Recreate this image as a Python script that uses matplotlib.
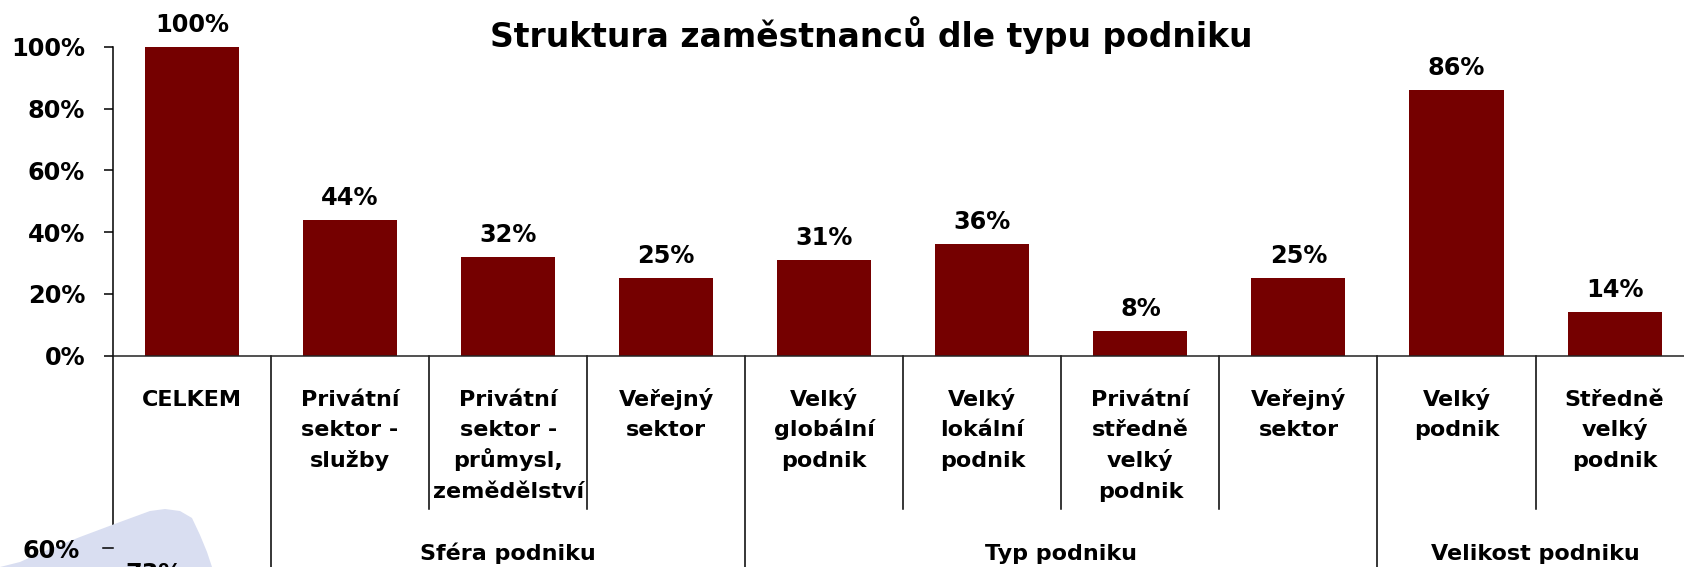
import matplotlib
matplotlib.use("Agg")
import matplotlib.pyplot as plt
from matplotlib.patches import Polygon
from matplotlib.ticker import PercentFormatter

plt.rcParams['font.family'] = ['DejaVu Sans']
plt.rcParams['font.weight'] = 'bold'

categories = [
    ["CELKEM"],
    ["Privátní", "sektor -", "služby"],
    ["Privátní", "sektor -", "průmysl,", "zemědělství"],
    ["Veřejný", "sektor"],
    ["Velký", "globální", "podnik"],
    ["Velký", "lokální", "podnik"],
    ["Privátní", "středně", "velký", "podnik"],
    ["Veřejný", "sektor"],
    ["Velký", "podnik"],
    ["Středně", "velký", "podnik"],
]
values = [1.00, 0.44, 0.32, 0.25, 0.31, 0.36, 0.08, 0.25, 0.86, 0.14]
value_labels = ["100%", "44%", "32%", "25%", "31%", "36%", "8%", "25%", "86%", "14%"]
groups = ["Sféra podniku", "Typ podniku", "Velikost podniku"]
group_span = [(1, 3), (4, 7), (8, 9)]
yticks = [0, 0.2, 0.4, 0.6, 0.8, 1.0]

W, H = 1684, 567
fig = plt.figure(figsize=(W / 100, H / 100), dpi=100)

# plot area in pixels
x0, x1 = 112.97, 1693.6
y_zero, y_top = 355.5, 47.0
ax = fig.add_axes([x0 / W, 1 - y_zero / H, (x1 - x0) / W, (y_zero - y_top) / H])


def ax_y(px):
    # pixel row -> axes fraction
    return (y_zero - px) / (y_zero - y_top)


n = len(values)
ax.bar(range(n), values, width=0.595, color='#750000', zorder=2)
ax.set_xlim(-0.5, n - 0.5)
ax.set_ylim(0, 1)
ax.set_yticks(yticks)
ax.yaxis.set_major_formatter(PercentFormatter(1.0, decimals=0))
ax.tick_params(axis='y', length=6.5, width=1.1, pad=13.5, labelsize=17.3)
ax.set_xticks([])
for s in ['top', 'right']:
    ax.spines[s].set_visible(False)
ax.spines['left'].set_linewidth(1.1)
ax.spines['bottom'].set_linewidth(1.1)
ax.spines['bottom'].set_color('#222222')

for i, v in enumerate(values):
    ax.annotate(value_labels[i], (i, v), xytext=(0, 10.8), textcoords='offset points',
                ha='center', va='baseline', fontsize=17.3, fontweight='bold')

tr = ax.get_xaxis_transform()
# category labels, one text per line
for i, lines in enumerate(categories):
    for k, line in enumerate(lines):
        ax.text(i, ax_y(406 + k * 30.5), line, transform=tr, ha='center', va='baseline',
                fontsize=16, fontweight='bold', clip_on=False)

# separator lines under the axis
long_edges = [-0.5, 0.5] + [b + 0.5 for a, b in group_span[:-1]]
short_edges = []
for a, b in group_span:
    short_edges += [k + 0.5 for k in range(a, b)]
for xe in long_edges:
    ax.plot([xe, xe], [0, ax_y(H + 2)], transform=tr, color='black', lw=1.1, clip_on=False)
for xe in short_edges:
    ax.plot([xe, xe], [0, ax_y(509)], transform=tr, color='black', lw=1.1, clip_on=False)

for g, (a, b) in zip(groups, group_span):
    ax.text((a + b) / 2, ax_y(560), g, transform=tr, ha='center', va='baseline',
            fontsize=16, fontweight='bold', clip_on=False)

fig.text(871.5 / W, 1 - 47 / H, "Struktura zaměstnanců dle typu podniku",
         ha='center', va='baseline', fontsize=23.8, fontweight='bold')

# remnants of the next chart at the bottom edge
blob = [(0, 567), (20, 562), (40, 553), (80, 537), (120, 522), (150, 511), (165, 509),
        (180, 511), (192, 518), (200, 535), (207, 552), (212, 567)]
fig.patches.append(Polygon([(x / W, 1 - y / H) for x, y in blob], closed=True,
                           transform=fig.transFigure, facecolor='#d9def1', edgecolor='none', zorder=0))
fig.text(80 / W, 1 - 558 / H, "60%", ha='right', va='baseline', fontsize=17.3, fontweight='bold')
fig.add_artist(plt.Line2D([103 / W, x0 / W], [1 - 547.5 / H, 1 - 547.5 / H], color='black', lw=1.1))
fig.text(125 / W, 1 - 581 / H, "73%", ha='left', va='baseline', fontsize=17.3, fontweight='bold')

fig.savefig("out.png", dpi=100)
